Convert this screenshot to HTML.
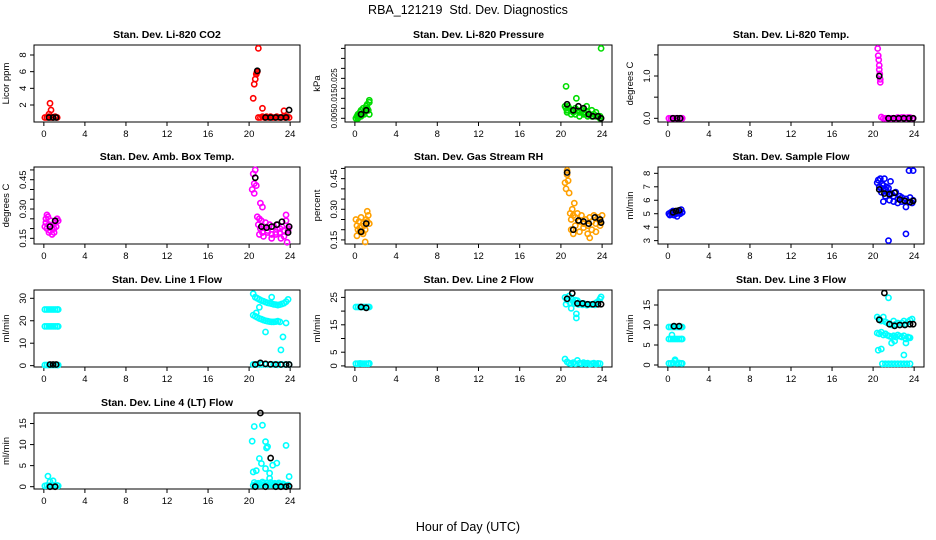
<!DOCTYPE html>
<html><head><meta charset="utf-8"><style>
html,body{margin:0;padding:0;background:#fff;}
svg{display:block;font-family:"Liberation Sans",sans-serif;}
</style></head><body>
<svg id="chart" width="936" height="540" viewBox="0 0 936 540" xmlns="http://www.w3.org/2000/svg">
<text x="468" y="14" font-size="12.5" text-anchor="middle" xml:space="preserve">RBA_121219  Std. Dev. Diagnostics</text>
<text x="468" y="531" font-size="12.5" text-anchor="middle">Hour of Day (UTC)</text>
</svg>
<script>
// ---- data arrays (hours, values) ----
const co2X=[0.1,0.3,0.5,0.7,0.9,1.1,1.3,0.6,0.7,0.5, 20.4,20.5,20.6,20.7,20.75,20.8,20.9, 20.9,21.1,21.3,21.5,21.7,21.9,22.1,22.3,22.5,22.7,22.9,23.1,23.3,23.5,23.7,23.9,21.3,23.4];
const co2Y=[0.5,0.5,0.6,0.5,0.5,0.6,0.5,2.2,1.4,0.9, 2.8,4.5,5.1,5.7,5.9,6.0,8.8, 0.5,0.5,0.6,0.5,0.6,0.5,0.6,0.5,0.5,0.6,0.5,0.5,0.6,0.5,0.6,0.5,1.6,1.3];
const co2BX=[0.5,0.9,1.2,20.8,21.6,22.1,22.6,23.1,23.6,23.9];
const co2BY=[0.5,0.5,0.5,6.1,0.5,0.5,0.5,0.5,0.5,1.4];

const prsX=[0.1,0.2,0.3,0.4,0.5,0.6,0.7,0.8,0.9,1.0,1.1,1.2,1.3,1.4,0.3,0.6,0.9,1.2,1.4,1.4, 20.4,20.5,20.6,20.7,20.8,21.0,21.2,21.4,21.6,21.8,22.0,22.2,22.4,22.6,22.8,23.0,23.2,23.4,23.6,23.8, 20.6,21.0,21.4,21.8,22.2,22.6,23.0,23.4,23.8,20.5,21.5,22.5,23.9];
const prsY=[0.005,0.006,0.007,0.006,0.008,0.009,0.007,0.010,0.008,0.009,0.011,0.010,0.009,0.013,0.005,0.006,0.007,0.012,0.007,0.014, 0.011,0.010,0.009,0.011,0.010,0.009,0.008,0.010,0.009,0.008,0.009,0.008,0.007,0.008,0.007,0.009,0.007,0.008,0.006,0.006, 0.008,0.007,0.007,0.006,0.007,0.006,0.006,0.006,0.005,0.021,0.015,0.011,0.040];
const prsBX=[0.6,1.1,20.6,21.2,21.7,22.2,22.7,23.1,23.6,23.9];
const prsBY=[0.007,0.009,0.012,0.009,0.011,0.010,0.007,0.006,0.006,0.005];

const tmpX=[0.1,0.3,0.5,0.7,0.9,1.1,1.3,1.4, 20.45,20.5,20.55,20.6,20.6,20.65,20.7,20.7, 20.8,21.0,21.2,21.4,21.6,21.8,22.0,22.2,22.4,22.6,22.8,23.0,23.2,23.4,23.6,23.8,23.9];
const tmpY=[0,0,0,0,0,0,0,0, 1.65,1.48,1.38,1.25,1.15,1.05,0.92,0.85, 0.03,0,0,0,0,0,0,0,0.02,0,0.02,0.02,0,0.02,0.02,0,0];
const tmpBX=[0.5,0.9,1.2,20.6,21.5,22.0,22.5,23.0,23.5,23.9];
const tmpBY=[0,0,0,1.0,0,0,0,0,0,0];

const ambX=[0.1,0.2,0.3,0.4,0.5,0.6,0.7,0.8,0.9,1.0,1.1,1.2,1.3,1.4,0.3,0.8,0.5,1.0,0.2, 20.3,20.4,20.5,20.6,20.7,20.5, 20.8,20.9,21.0,21.1,21.2,21.3,21.4,21.6,21.8,22.0,22.2,22.4,22.6,22.8,23.0,23.2,23.4,23.6,23.8,23.9, 21.0,21.4,21.8,22.2,22.6,23.0,23.4,23.8,21.1,21.3,23.1,23.7,23.6];
const ambY=[0.21,0.23,0.20,0.26,0.22,0.19,0.24,0.20,0.22,0.18,0.23,0.21,0.25,0.24,0.27,0.17,0.18,0.20,0.25, 0.40,0.48,0.43,0.50,0.42,0.38, 0.26,0.22,0.25,0.20,0.24,0.18,0.21,0.23,0.19,0.22,0.17,0.21,0.18,0.22,0.20,0.21,0.19,0.24,0.20,0.21, 0.17,0.16,0.18,0.15,0.17,0.18,0.16,0.19,0.33,0.31,0.15,0.13,0.27];
const ambBX=[0.6,1.1,20.6,21.2,21.7,22.2,22.7,23.2,23.8,23.9];
const ambBY=[0.21,0.24,0.46,0.21,0.205,0.21,0.22,0.235,0.18,0.21];

const rhX=[0.1,0.2,0.3,0.4,0.5,0.6,0.7,0.8,0.9,1.0,1.1,1.2,1.3,1.4,0.2,0.8,1.2,1.0,0.5, 20.4,20.5,20.6,20.7,20.8,20.6, 20.9,21.0,21.1,21.2,21.3,21.4,21.6,21.8,22.0,22.2,22.4,22.6,22.8,23.0,23.2,23.4,23.6,23.8,24.0, 21.0,21.4,21.8,22.2,22.6,23.0,23.4,23.8,21.2,22.8];
const rhY=[0.25,0.22,0.20,0.24,0.21,0.26,0.19,0.23,0.22,0.20,0.25,0.24,0.27,0.23,0.17,0.18,0.29,0.14,0.19, 0.43,0.40,0.47,0.44,0.38,0.49, 0.28,0.25,0.30,0.27,0.33,0.26,0.28,0.24,0.27,0.23,0.25,0.22,0.26,0.24,0.27,0.23,0.26,0.24,0.27, 0.20,0.22,0.19,0.21,0.18,0.20,0.19,0.22,0.18,0.16];
const rhBX=[0.6,1.1,20.6,21.2,21.7,22.2,22.7,23.3,23.8,23.9];
const rhBY=[0.19,0.23,0.48,0.20,0.245,0.24,0.23,0.26,0.25,0.235];

const smpX=[0.1,0.2,0.3,0.4,0.5,0.6,0.7,0.8,0.9,1.0,1.1,1.2,1.3,1.4, 20.4,20.5,20.6,20.7,20.8,20.9,21.0,21.1,21.2,21.3,21.4,21.5,21.6,21.8,22.0,22.2,22.4,22.6,22.8,23.0,23.2,23.4,23.6,23.8,23.9, 20.8,21.2,21.6,22.0,22.4,22.8,23.2, 21.5,23.2,23.5,23.9,21.7,21.0];
const smpY=[5.0,4.9,5.1,5.0,5.2,4.9,5.1,5.0,4.8,5.2,5.1,5.0,5.3,5.1, 7.3,7.5,7.0,7.6,6.9,7.2,7.1,7.6,6.8,7.0,6.6,6.9,6.4,6.5,6.3,6.6,6.1,6.3,6.2,6.0,6.1,5.9,6.2,5.8,6.0, 6.6,6.3,6.0,5.9,5.8,5.9,5.5, 3.0,3.5,8.2,8.2,7.4,5.9];
const smpBX=[0.5,0.8,1.1,20.6,21.1,21.6,22.1,22.6,23.1,23.6,23.9];
const smpBY=[5.1,5.2,5.25,6.8,6.5,6.45,6.55,6.05,5.95,5.85,5.95];

const l1X=[0.1,0.3,0.5,0.7,0.9,1.1,1.3,1.4, 0.1,0.3,0.5,0.7,0.9,1.1,1.3,1.4, 0.1,0.3,0.5,0.7,0.9,1.1,1.3,1.4, 20.4,20.6,20.8,21.0,21.2,21.4,21.6,21.8,22.0,22.2,22.4,22.6,22.8,23.0,23.2,23.4,23.6,23.8, 20.4,20.6,20.8,21.0,21.2,21.4,21.6,21.8,22.0,22.2,22.4,22.6,22.8,23.0, 20.4,20.8,21.2,21.6,22.0,22.4,22.8,23.2,23.6,23.9, 21.6,23.3,23.1,23.6,21.0,22.2,20.7];
const l1Y=[25,25,25,25,25,25,25,25, 17.5,17.5,17.5,17.5,17.5,17.5,17.5,17.5, 0.3,0.3,0.3,0.3,0.3,0.3,0.3,0.3, 32,30.5,30,29.5,29,28.7,28.3,28,27.8,27.6,27.3,27.2,27,27.2,27.5,27.8,28.5,29.5, 22.5,22,21.5,21,20.7,20.3,20,19.8,19.6,19.5,19.5,19.6,19.8,19.5, 0.5,0.6,0.5,0.5,0.5,0.5,0.5,0.5,0.5,0.5, 15,12.8,7,19,26,30.5,23.5];
const l1BX=[0.6,0.9,1.2,20.6,21.1,21.6,22.1,22.6,23.1,23.6,23.9];
const l1BY=[0.5,0.5,0.5,0.5,1.2,0.8,0.6,0.5,0.5,0.5,0.5];

const l2X=[0.1,0.3,0.5,0.7,0.9,1.1,1.3,1.4, 0.1,0.3,0.5,0.7,0.9,1.1,1.3,1.4, 20.4,20.6,20.8,21.0,21.2,21.4,21.6,21.8,22.0,22.2,22.4,22.6,22.8,23.0,23.2,23.4,23.6,23.8,23.9, 20.5,20.9,21.3,21.7,22.1,22.5,22.9,23.3, 20.4,20.6,20.8,21.0,21.2,21.4,21.6,21.8,22.0,22.2,22.4,22.6,22.8,23.0,23.2,23.4,23.6,23.8, 21.0,21.5,21.5];
const l2Y=[21.5,21.5,21.5,21.5,21.5,21.5,21.5,21.5, 0.8,0.8,0.9,0.8,0.8,0.8,0.8,0.9, 25,24,25.5,24.5,23.5,24,23.8,23,22.5,22.8,22.5,22.3,22.5,22.4,22.6,23,23.5,24.5,25.2, 22.5,23,22.8,22.4,22.3,22.2,22.4,22.3, 2.5,1.5,1,0.8,1.2,0.8,2,1,0.8,1.2,0.8,1,0.7,0.8,1,0.7,0.9,0.8, 21,19,17.5];
const l2BX=[0.6,1.1,20.6,21.1,21.6,22.1,22.6,23.1,23.6,23.9];
const l2BY=[21.5,21.2,24.5,26.5,22.8,22.8,22.5,22.5,22.5,22.5];

const l3X=[0.1,0.3,0.5,0.7,0.9,1.1,1.3,1.4, 0.1,0.3,0.5,0.7,0.9,1.1,1.3,1.4,0.4, 0.1,0.3,0.5,0.7,0.9,1.1,1.3,1.4,0.7, 20.4,20.6,20.8,21.0,21.2,21.4,21.6,21.8,22.0,22.2,22.4,22.6,22.8,23.0,23.2,23.4,23.6,23.8, 20.4,20.6,20.8,21.0,21.2,21.4,21.6,21.8,22.0,22.2,22.4,22.6,22.8,23.0,23.2,23.4,23.6, 20.9,21.2,21.5,21.8,22.1,22.4,22.7,23.0,23.3,23.6, 20.5,20.8,21.5,23.0,21.8,22.1,23.2,23.5];
const l3Y=[9.5,9.5,9.5,9.5,9.5,9.5,9.5,9.5, 6.5,6.5,6.5,6.5,6.5,6.5,6.5,6.5,7.5, 0.4,0.4,0.5,1,0.4,0.5,0.4,0.4,1.3, 12,11.5,11,12,10.8,10.5,10.3,10,11,10.2,10.5,10,10.5,11,10.3,10.8,11.2,11.5, 8,7.8,8.2,7.5,7.8,7.4,7.2,7,7.3,7,7.5,7.2,7,7.3,6.5,7,6.8, 0.3,0.3,0.3,0.3,0.3,0.3,0.3,0.3,0.3,0.3, 3.7,4,16.8,2.5,5.5,6,5.5,6.8];
const l3BX=[0.6,1.1,20.6,21.1,21.6,22.1,22.6,23.1,23.6,23.9];
const l3BY=[9.7,9.7,11.3,18,10.2,9.8,10,10,10.2,10.2];

const l4X=[0.1,0.3,0.5,0.7,0.9,1.1,1.3,1.4,0.4,0.6,0.9, 20.4,20.6,20.8,21.0,21.2,21.4,21.6,21.8,22.0,22.2,22.4,22.6,22.8,23.0,23.2,23.4,23.6,23.8, 20.5,20.9,21.3,21.7,22.1,22.5,22.9,23.3, 20.3,20.5,21.3,20.4,20.7,21.0,21.2,21.6,21.7,21.8,21.6,22.0,22.3,22.7,23.6,23.9,22.0];
const l4Y=[0.2,0.3,0.2,0.4,0.3,0.2,0.3,0.2,2.5,1.2,1.4, 0.3,0.5,0.3,0.6,0.4,0.8,0.5,0.3,0.7,0.4,0.5,0.3,0.6,0.4,0.3,0.5,0.3,0.4, 1,0.8,1.1,0.9,1,0.8,0.9,0.7, 10.8,14.3,14.6,3.5,3.8,6.7,5.5,10.7,9.2,9.5,4.3,3.2,5.1,5.6,9.8,2.4,2];
const l4BX=[0.6,1.1,20.6,21.1,21.6,22.1,22.6,23.1,23.6,23.9];
const l4BY=[0,0,0,17.5,0,6.8,0,0,0,0.1];

// tick value arrays
const xTicks=[0,4,8,12,16,20,24];
const co2Ticks=[2,4,6,8], co2Labels=["2","4","6","8"];
const prsTicks=[0.005,0.010,0.015,0.020,0.025,0.030,0.035,0.040], prsLabels=["0.005","","0.015","","0.025","","",""];
const tmpTicks=[0,0.5,1.0,1.5], tmpLabels=["0.0","","1.0",""];
const ambTicks=[0.15,0.20,0.25,0.30,0.35,0.40,0.45,0.50], ambLabels=["0.15","","","0.30","","","0.45",""];
const rhTicks=[0.15,0.20,0.25,0.30,0.35,0.40,0.45,0.50], rhLabels=["0.15","","","0.30","","","0.45",""];
const smpTicks=[3,4,5,6,7,8], smpLabels=["3","4","5","6","7","8"];
const l1Ticks=[0,10,20,30], l1Labels=["0","10","20","30"];
const l2Ticks=[0,5,10,15,20,25], l2Labels=["0","5","","15","","25"];
const l3Ticks=[0,5,10,15], l3Labels=["0","5","10","15"];
const l4Ticks=[0,5,10,15], l4Labels=["0","5","10","15"];

const NS="http://www.w3.org/2000/svg";
const svg=document.getElementById('chart');
const colL=[34,345,658], colR=[300,612,924];
const rowT=[45,167,290,413], rowB=[122,244,367,489];

const panels=[
 {id:'co2',t:"Stan. Dev. Li-820 CO2",yl:"Licor ppm",c:0,r:0,d:[-0.04,9.2],tk:co2Ticks,lb:co2Labels,x:co2X,y:co2Y,bx:co2BX,by:co2BY,col:"#ff0000",fs:9.5},
 {id:'pressure',t:"Stan. Dev. Li-820 Pressure",yl:"kPa",c:1,r:0,d:[0.00315,0.0417],tk:prsTicks,lb:prsLabels,x:prsX,y:prsY,bx:prsBX,by:prsBY,col:"#00dd00",fs:8},
 {id:'temp',t:"Stan. Dev. Li-820 Temp.",yl:"degrees C",c:2,r:0,d:[-0.087,1.733],tk:tmpTicks,lb:tmpLabels,x:tmpX,y:tmpY,bx:tmpBX,by:tmpBY,col:"#ff00ff",fs:9.5},
 {id:'amb-box',t:"Stan. Dev. Amb. Box Temp.",yl:"degrees C",c:0,r:1,d:[0.121,0.515],tk:ambTicks,lb:ambLabels,x:ambX,y:ambY,bx:ambBX,by:ambBY,col:"#ff00ff",fs:9.5},
 {id:'rh',t:"Stan. Dev. Gas Stream RH",yl:"percent",c:1,r:1,d:[0.13,0.507],tk:rhTicks,lb:rhLabels,x:rhX,y:rhY,bx:rhBX,by:rhBY,col:"#ffa000",fs:9.5},
 {id:'sample-flow',t:"Stan. Dev. Sample Flow",yl:"ml/min",c:2,r:1,d:[2.75,8.47],tk:smpTicks,lb:smpLabels,x:smpX,y:smpY,bx:smpBX,by:smpBY,col:"#0000ff",fs:9.5},
 {id:'line1',t:"Stan. Dev. Line 1 Flow",yl:"ml/min",c:0,r:2,d:[-0.6,33.7],tk:l1Ticks,lb:l1Labels,x:l1X,y:l1Y,bx:l1BX,by:l1BY,col:"#00ffff",fs:9.5},
 {id:'line2',t:"Stan. Dev. Line 2 Flow",yl:"ml/min",c:1,r:2,d:[-0.4,27.7],tk:l2Ticks,lb:l2Labels,x:l2X,y:l2Y,bx:l2BX,by:l2BY,col:"#00ffff",fs:9.5},
 {id:'line3',t:"Stan. Dev. Line 3 Flow",yl:"ml/min",c:2,r:2,d:[-0.5,18.75],tk:l3Ticks,lb:l3Labels,x:l3X,y:l3Y,bx:l3BX,by:l3BY,col:"#00ffff",fs:9.5},
 {id:'line4',t:"Stan. Dev. Line 4 (LT) Flow",yl:"ml/min",c:0,r:3,d:[-0.55,17.5],tk:l4Ticks,lb:l4Labels,x:l4X,y:l4Y,bx:l4BX,by:l4BY,col:"#00ffff",fs:9.5}
];

function mk(tag,attrs,parent){const e=document.createElementNS(NS,tag);for(const k in attrs)e.setAttribute(k,attrs[k]);(parent||svg).appendChild(e);return e;}

panels.forEach(p=>{
 const L=colL[p.c],R=colR[p.c],T=rowT[p.r],B=rowB[p.r];
 const g=mk('g',{});
 
 
 const sx=v=>L+(v+0.96)/25.92*(R-L);
 const sy=v=>B-(v-p.d[0])/(p.d[1]-p.d[0])*(B-T);
 const box=mk('rect',{x:L,y:T,width:R-L,height:B-T,fill:'none',stroke:'#000','stroke-width':1},g);
 
 
 const title=mk('text',{x:(L+R)/2,y:T-7,'font-size':10.5,'font-weight':'bold','text-anchor':'middle'},g);
 title.textContent=p.t;
 
 
 const yl=mk('text',{x:0,y:0,'font-size':9.5,'text-anchor':'middle',transform:`translate(${L-25},${(T+B)/2}) rotate(-90)`},g);
 yl.textContent=p.yl;
 
 
 const xa=mk('g',{},g);
 
 
 mk('line',{x1:sx(xTicks[0]),x2:sx(xTicks[xTicks.length-1]),y1:B,y2:B,stroke:'#000'},xa);
 xTicks.forEach(v=>{
  mk('line',{x1:sx(v),x2:sx(v),y1:B,y2:B+4,stroke:'#000'},xa);
  const t=mk('text',{x:sx(v),y:B+15,'font-size':9.5,'text-anchor':'middle'},xa);
  t.textContent=String(v);
  
  
 });
 const ya=mk('g',{},g);
 
 
 p.tk.forEach((v,i)=>{
  mk('line',{x1:L-4,x2:L,y1:sy(v),y2:sy(v),stroke:'#000'},ya);
  if(p.lb[i]){
   const t=mk('text',{x:0,y:0,'font-size':p.fs,'text-anchor':'middle',transform:`translate(${L-8},${sy(v)}) rotate(-90)`},ya);
   t.textContent=p.lb[i];
   
   
  }
 });
 const sg=mk('g',{},g);
 
 
 p.x.forEach((v,i)=>{
  const c=mk('circle',{cx:sx(v),cy:sy(p.y[i]),r:2.6,fill:'none',stroke:p.col,'stroke-width':1.6},sg);
  
  
 });
 const bg=mk('g',{},g);
 
 
 p.bx.forEach((v,i)=>{
  const c=mk('circle',{cx:sx(v),cy:sy(p.by[i]),r:2.6,fill:'none',stroke:'#000','stroke-width':1.6},bg);
  
  
 });
});
</script>
</body></html>
